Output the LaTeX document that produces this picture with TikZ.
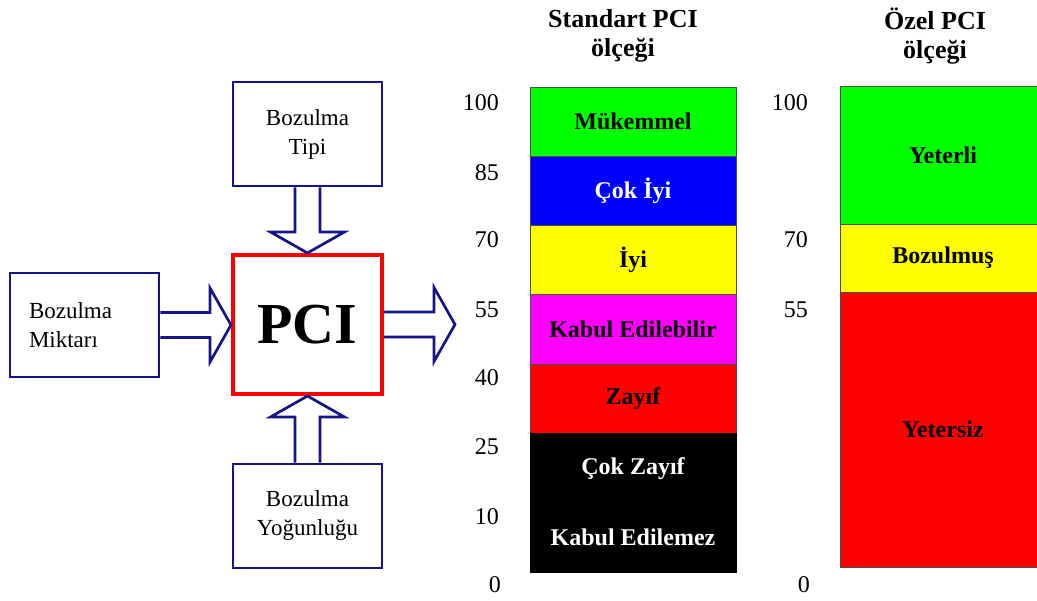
\documentclass[tikz,border=0pt]{standalone}
\usepackage{fontspec}
\setmainfont{Liberation Serif}
\usepackage{xcolor}
\usepackage{tikz}
\usetikzlibrary{calc}
\definecolor{Frame}{RGB}{20,20,140}
\definecolor{Green}{RGB}{0,255,0}
\definecolor{Blue}{RGB}{0,0,255}
\definecolor{Yellow}{RGB}{255,255,0}
\definecolor{Magenta}{RGB}{255,0,255}
\definecolor{Red}{RGB}{255,0,0}
\newcommand{\HollowArrow}[3]{% from to angle
\begin{scope}[shift={(#1)},rotate=#3]
\draw[line width=2.7pt,Frame] let \p1=($(#2)-(#1)$), \n1={veclen(\x1,\y1)-21} in
  (0,-12.5) -- (\n1,-12.5) -- (\n1,-37) -- ({\n1+21},0) -- (\n1,37) -- (\n1,12.5) -- (0,12.5);
\end{scope}
}
\tikzset{
  box/.style={draw=Frame, line width=2.7pt, minimum width=149pt, minimum height=104pt,
    align=center, font=\fontsize{23}{29}\selectfont},
  pcibox/.style={draw=Red, line width=4pt, minimum width=149pt, minimum height=139pt,
    font=\bfseries\fontsize{58}{60}\selectfont},
  band/.style={draw=black!70, line width=0.8pt, minimum width=206pt, inner sep=0pt,
    font=\bfseries\fontsize{24}{28}\selectfont},
  num/.style={anchor=east, inner sep=0pt, font=\fontsize{24}{28}\selectfont},
  title/.style={align=center, font=\bfseries\fontsize{26}{29}\selectfont}
}

\begin{document}
\begin{tikzpicture}[x=1pt,y=-1pt]
\useasboundingbox (0,0) rectangle (1037,601);
\clip (0,0) rectangle (1037,601);
% PCI inputs
\node[box] (tipi) at (307.5,134) {Bozulma\\Tipi};
\node[box, align=left, text width=111pt] (miktari) at (84.5,325) {Bozulma\\Miktarı};
\node[pcibox] (pci) at (307.5,324.5) {PCI};
\node[box] (yogunlugu) at (307.5,516) {Bozulma\\Yoğunluğu};
\coordinate (out) at (455,324.5);
\HollowArrow{tipi.south}{pci.north}{-90}
\HollowArrow{yogunlugu.north}{pci.south}{90}
\HollowArrow{miktari.east}{pci.west}{0}
\HollowArrow{pci.east}{out}{0}

% standard scale
\node[title] (stdtitle) at (623,36) {Standart PCI\\ölçeği};
\node[band, fill=Green, minimum height=69.3pt] (mukemmel) at (633,121.65) {Mükemmel};
\node[band, fill=Blue, text=white, minimum height=69.3pt] (cokiyi) at (633,190.95) {Çok İyi};
\node[band, fill=Yellow, minimum height=69.3pt] (iyi) at (633,260.25) {İyi};
\node[band, fill=Magenta, minimum height=69.3pt] (kabul) at (633,329.55) {Kabul Edilebilir};
\node[band, fill=Red, minimum height=69.3pt] (zayif) at (633,398.85) {Zayıf};
\node[band, draw=black, fill=black, text=white, minimum height=69.3pt] (cokzayif) at (633,468.15) {Çok Zayıf};
\node[band, draw=black, fill=black, text=white, minimum height=69.3pt] (kabulmez) at (633,537.45) {Kabul Edilemez};
\node[num] (s100) at (499,103) {100};
\node[num] (s85) at (499,173) {85};
\node[num] (s70) at (499,240) {70};
\node[num] (s55) at (499,310) {55};
\node[num] (s40) at (499,378) {40};
\node[num] (s25) at (499,447) {25};
\node[num] (s10) at (499,517) {10};
\node[num] (s0) at (501,585) {0};

% special scale
\node[title] (oztitle) at (935,36) {Özel PCI\\ölçeği};
\node[band, fill=Green, minimum height=138pt] (yeterli) at (943,155) {Yeterli};
\node[band, fill=Yellow, minimum height=68pt] (bozulmus) at (943,258) {Bozulmuş};
\node[band, fill=Red, minimum height=275pt] (yetersiz) at (943,429.5) {Yetersiz};
\node[num] (o100) at (808,103) {100};
\node[num] (o70) at (808,240) {70};
\node[num] (o55) at (808,310) {55};
\node[num] (o0) at (810,585) {0};
\end{tikzpicture}
\end{document}
